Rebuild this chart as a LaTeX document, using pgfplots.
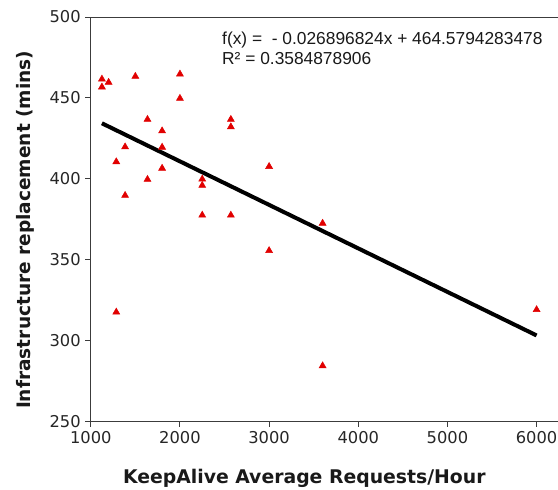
\documentclass[border=0pt]{standalone}
\usepackage{fontspec}
\setmainfont{DejaVu Sans}
\newfontfamily\eqfont{Liberation Sans}
\usepackage{pgfplots}
\pgfplotsset{compat=1.18}
\definecolor{ptred}{RGB}{225,0,0}
\definecolor{axgray}{RGB}{60,60,60}

\begin{document}
\begin{tikzpicture}
\begin{axis}[
  scale only axis,
  width=350pt, height=303pt,
  xmin=1000, xmax=6240,
  ymin=250, ymax=500,
  axis x line*=bottom, axis y line*=left,
  axis line style={-, axgray, line width=0.7pt},
  xtick={1000,2000,...,6000},
  ytick={250,300,...,500},
  tick align=outside,
  major tick length=4pt,
  tick style={axgray, line width=0.7pt},
  /pgf/number format/assume math mode=true,
  /pgf/number format/set thousands separator={},
  ticklabel style={font=\fontsize{12.2}{14}\selectfont, text=black!85},
  xlabel={KeepAlive Average Requests/Hour},
  ylabel={Infrastructure replacement (mins)},
  xlabel style={font=\bfseries\fontsize{14.1}{16}\selectfont, text=black!90,
                at={(axis description cs:0.457,-0.1535)}, anchor=base},
  ylabel style={font=\bfseries\fontsize{13.9}{16}\selectfont, text=black!90,
                at={(axis description cs:-0.1286,0.474)}, anchor=base},
  clip=false,
  extra description/.code={
    \draw[axgray, line width=0.7pt] (rel axis cs:0,1) -- (rel axis cs:1,1);
    \coordinate (bl) at (rel axis cs:0,0);
    \coordinate (tr) at (rel axis cs:1,1);
  },
]
\addplot[only marks, mark=triangle*, mark size=3pt, color=ptred] coordinates {
  (1125,461.6) (1200,459.6) (1125,456.7) (1500,463.3)
  (2000,464.7) (2000,449.7)
  (1636,436.7) (1636,399.6)
  (2571,436.7) (2571,432.1) (2571,377.5)
  (1800,429.6) (1800,419.5) (1800,406.5)
  (1385,419.7) (1385,389.7)
  (1286,410.5) (1286,317.6)
  (3000,407.6) (3000,355.6)
  (2250,399.8) (2250,395.9) (2250,377.5)
  (3600,372.5) (3600,284.4)
  (6000,319.1)
};
\addplot[black, line width=3pt] coordinates {(1125,434.32) (6000,303.20)};
\node[anchor=north west, inner sep=0pt, align=left,
      font=\eqfont\fontsize{13}{15}\selectfont, text=black!90]
  at (axis cs:2471,491) {f(x) = \ - 0.026896824x + 464.5794283478\\R² = 0.3584878906};
\end{axis}
\pgfresetboundingbox
\path ([shift={(-68pt,-51pt)}]bl) rectangle ([shift={(0pt,12.75pt)}]tr);
\end{tikzpicture}
\end{document}
